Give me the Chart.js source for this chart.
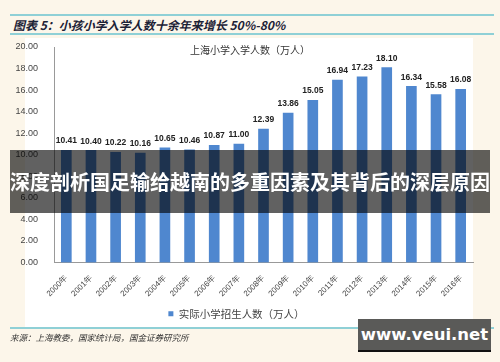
<!DOCTYPE html>
<html>
<head>
<meta charset="utf-8">
<script src="https://cdn.jsdelivr.net/npm/chart.js@4"></script>
<style>
  html, body { margin: 0; padding: 0; }
  body { width: 500px; height: 362px; background: #fcf6ea; position: relative; overflow: hidden; font-family: "Noto Sans CJK SC", sans-serif; }
  .panel { position: absolute; left: 25px; top: 38px; width: 448px; height: 289px; background: #fff; }
  .rule { position: absolute; left: 10px; width: 484px; height: 2px; background: #8fd0d6; }
  .head { position: absolute; left: 13px; top: 16px; font-size: 12px; font-weight: bold; font-style: italic; color: #1c2236; white-space: nowrap; }
  .ctitle { position: absolute; left: 0; width: 500px; top: 42px; text-align: center; font-size: 10px; color: #333; }
  .src { position: absolute; left: 10px; top: 331px; font-size: 8.5px; color: #333; font-style: italic; }
  .wrap { position: absolute; left: 0; top: 0; width: 500px; height: 362px; }
  .banner { position: absolute; left: 10px; top: 150px; width: 480px; height: 63px; background: rgba(0,0,0,0.62); color: #fff; font-size: 20px; font-weight: bold; text-align: center; line-height: 63px; white-space: nowrap; }
  .mark { position: absolute; left: 358px; top: 319px; width: 133px; height: 31px; background: #5a5a58; border-bottom: 2px solid #111; color: #fff; font-family: "DejaVu Sans", sans-serif; font-weight: bold; font-size: 16.5px; text-align: center; line-height: 31px; }
</style>
</head>
<body>
<div class="panel"></div>
<div class="rule" style="top:14px"></div>
<div class="rule" style="top:33px"></div>
<div class="head">图表 5：小孩小学入学人数十余年来增长 50%-80%</div>
<div class="wrap"><canvas id="chart"></canvas></div>
<div class="ctitle">上海小学入学人数（万人）</div>
<div class="rule" style="top:327px"></div>
<div class="src">来源：上海教委，国家统计局，国金证券研究所</div>
<div class="banner">深度剖析国足输给越南的多重因素及其背后的深层原因</div>
<div class="mark">www.veui.net</div>
<script>
const years = ['2000年', '2001年', '2002年', '2003年', '2004年', '2005年', '2006年', '2007年', '2008年',
    '2009年', '2010年', '2011年', '2012年', '2013年', '2014年', '2015年', '2016年'];
const enrolment = [10.41, 10.40, 10.22, 10.16, 10.65, 10.46, 10.87, 11.00, 12.39,
    13.86, 15.05, 16.94, 17.23, 18.10, 16.34, 15.58, 16.08];
const seriesName = '实际小学招生人数（万人）';

// 柱顶数值
const valueLabels = {
    id: 'valueLabels',
    afterDatasetsDraw(chart) {
        const ctx = chart.ctx;
        const meta = chart.getDatasetMeta(0);
        ctx.save();
        ctx.font = 'bold 8.5px "Liberation Sans", Arial, sans-serif';
        ctx.fillStyle = '#222';
        ctx.textAlign = 'center';
        ctx.textBaseline = 'bottom';
        meta.data.forEach(function (bar, i) {
            ctx.fillText(enrolment[i].toFixed(2), bar.x, bar.y - 5);
        });
        ctx.restore();
    }
};

new Chart(document.getElementById('chart'), {
    type: 'bar',
    data: {
        labels: years,
        datasets: [{
            label: seriesName,
            data: enrolment,
            backgroundColor: '#4f87cf',
            barThickness: 10
        }]
    },
    options: {
        responsive: true,
        maintainAspectRatio: false,
        animation: false,
        layout: { padding: { top: 47, right: 27, left: 0, bottom: 33 } },
        plugins: {
            tooltip: { enabled: false },
            legend: {
                position: 'bottom',
                labels: {
                    boxWidth: 5,
                    boxHeight: 5,
                    padding: 6,
                    color: '#444',
                    font: { size: 10.5, family: '"Noto Sans CJK SC", sans-serif' }
                }
            }
        },
        scales: {
            x: {
                afterFit(scale) { scale.height = 40; },
                grid: { display: false },
                border: { color: '#999' },
                ticks: {
                    minRotation: 45,
                    maxRotation: 45,
                    color: '#444',
                    font: { size: 8, family: '"Liberation Sans", Arial, sans-serif' }
                }
            },
            y: {
                min: 0,
                max: 20,
                afterFit(scale) { scale.width = 54; },
                grid: { display: false },
                border: { color: '#999' },
                ticks: {
                    stepSize: 2,
                    padding: 8,
                    color: '#444',
                    font: { size: 9, family: '"Liberation Sans", Arial, sans-serif' },
                    callback: function (v) { return v.toFixed(2); }
                }
            }
        }
    },
    plugins: [valueLabels]
});
</script>
</body>
</html>
